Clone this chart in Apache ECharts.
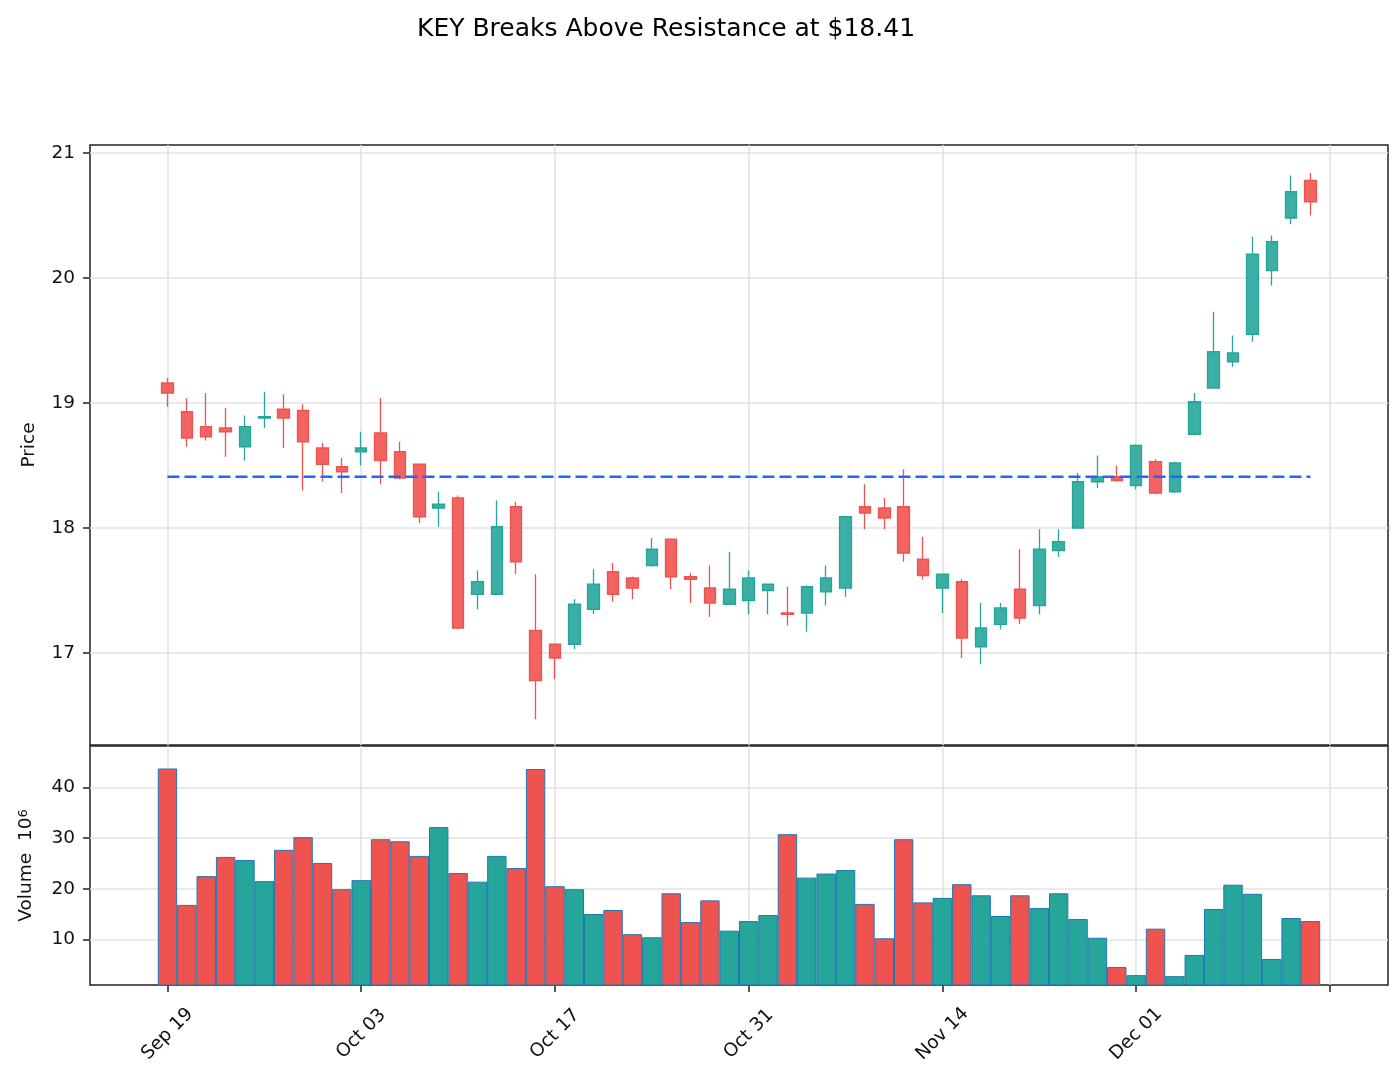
<!DOCTYPE html>
<html>
<head>
<meta charset="utf-8">
<title>KEY Breaks Above Resistance</title>
<script src="https://cdn.jsdelivr.net/npm/echarts@6/dist/echarts.min.js"></script>
<style>
  html, body { margin: 0; padding: 0; background: #fff; }
  #chart { width: 1400px; height: 1082px; }
</style>
</head>
<body>
<div id="chart"></div>
<script>
// 交易日期
const dates = [
  'Sep 19', 'Sep 20', 'Sep 21', 'Sep 22', 'Sep 23', 'Sep 26', 'Sep 27', 'Sep 28', 'Sep 29', 'Sep 30',
  'Oct 03', 'Oct 04', 'Oct 05', 'Oct 06', 'Oct 07', 'Oct 10', 'Oct 11', 'Oct 12', 'Oct 13', 'Oct 14',
  'Oct 17', 'Oct 18', 'Oct 19', 'Oct 20', 'Oct 21', 'Oct 24', 'Oct 25', 'Oct 26', 'Oct 27', 'Oct 28',
  'Oct 31', 'Nov 01', 'Nov 02', 'Nov 03', 'Nov 04', 'Nov 07', 'Nov 08', 'Nov 09', 'Nov 10', 'Nov 11',
  'Nov 14', 'Nov 15', 'Nov 16', 'Nov 17', 'Nov 18', 'Nov 21', 'Nov 22', 'Nov 23', 'Nov 28', 'Nov 29',
  'Dec 01', 'Dec 02', 'Dec 05', 'Dec 06', 'Dec 07', 'Dec 08', 'Dec 09', 'Dec 12', 'Dec 13', 'Dec 14'
]
// 开盘 / 最高 / 最低 / 收盘
const opens = [
  19.16, 18.93, 18.81, 18.80, 18.65, 18.88, 18.95, 18.94, 18.64, 18.49,
  18.61, 18.76, 18.61, 18.51, 18.16, 18.24, 17.47, 17.47, 18.17, 17.18,
  17.07, 17.07, 17.35, 17.65, 17.60, 17.70, 17.91, 17.61, 17.52, 17.39,
  17.42, 17.50, 17.32, 17.32, 17.49, 17.52, 18.17, 18.16, 18.17, 17.75,
  17.52, 17.57, 17.05, 17.23, 17.51, 17.38, 17.82, 18.00, 18.37, 18.41,
  18.34, 18.53, 18.29, 18.75, 19.12, 19.33, 19.55, 20.06, 20.48, 20.78
]
const highs = [
  19.20, 19.04, 19.08, 18.96, 18.90, 19.09, 19.07, 18.99, 18.68, 18.56,
  18.77, 19.04, 18.69, 18.51, 18.29, 18.26, 17.66, 18.22, 18.21, 17.63,
  17.07, 17.43, 17.67, 17.72, 17.61, 17.92, 17.91, 17.64, 17.70, 17.81,
  17.66, 17.55, 17.53, 17.54, 17.70, 18.09, 18.35, 18.24, 18.47, 17.93,
  17.63, 17.59, 17.40, 17.40, 17.83, 17.99, 17.99, 18.44, 18.58, 18.50,
  18.67, 18.55, 18.53, 19.08, 19.73, 19.54, 20.33, 20.34, 20.82, 20.84
]
const lows = [
  18.97, 18.65, 18.70, 18.57, 18.54, 18.80, 18.64, 18.30, 18.37, 18.28,
  18.50, 18.35, 18.39, 18.04, 18.01, 17.19, 17.35, 17.47, 17.63, 16.47,
  16.79, 17.03, 17.31, 17.41, 17.43, 17.69, 17.51, 17.40, 17.29, 17.39,
  17.31, 17.31, 17.22, 17.17, 17.38, 17.45, 17.99, 17.99, 17.73, 17.59,
  17.32, 16.96, 16.91, 17.19, 17.23, 17.31, 17.77, 18.00, 18.32, 18.37,
  18.31, 18.27, 18.28, 18.74, 19.12, 19.29, 19.49, 19.94, 20.43, 20.50
]
const closes = [
  19.08, 18.72, 18.73, 18.77, 18.81, 18.89, 18.88, 18.69, 18.51, 18.45,
  18.64, 18.54, 18.40, 18.09, 18.19, 17.20, 17.57, 18.01, 17.73, 16.78,
  16.96, 17.39, 17.55, 17.47, 17.52, 17.83, 17.61, 17.59, 17.40, 17.51,
  17.60, 17.55, 17.31, 17.53, 17.60, 18.09, 18.12, 18.08, 17.80, 17.62,
  17.63, 17.12, 17.20, 17.36, 17.28, 17.83, 17.89, 18.37, 18.41, 18.38,
  18.66, 18.28, 18.52, 19.01, 19.41, 19.40, 20.19, 20.29, 20.69, 20.61
]
// 成交量 (百万)
const volumes = [
  43.8, 16.8, 22.5, 26.3, 25.7, 21.5, 27.7, 30.2, 25.1, 19.9,
  21.7, 29.8, 29.4, 26.5, 32.2, 23.1, 21.4, 26.5, 24.1, 43.7,
  20.5, 19.9, 15.0, 15.8, 11.0, 10.4, 19.1, 13.4, 17.7, 11.7,
  13.6, 14.8, 30.8, 22.2, 23.0, 23.7, 17.0, 10.2, 29.8, 17.3,
  18.2, 20.9, 18.7, 14.6, 18.7, 16.2, 19.1, 14.0, 10.3, 4.5,
  2.9, 12.1, 2.7, 6.9, 16.0, 20.8, 19.0, 6.1, 14.2, 13.6
]
// 阻力位
const resistance = 18.41
// 刻度
const xTicks = [0, 10, 20, 30, 40, 50, 60]
const xLabelTicks = [0, 10, 20, 30, 40, 50]
const priceTicks = [17, 18, 19, 20, 21]
const volumeTicks = [10, 20, 30, 40]

const upColor = '#26a69a'
const downColor = '#ef5350'
const font = 'DejaVu Sans'
const gridLine = { show: true, lineStyle: { color: '#e3e3e3', width: 1.6 } }
const tickStyle = { color: '#222', width: 1.5 }
const noLine = { show: false, onZero: false }

// 初始化 echarts 实例
const myChart = echarts.init(document.getElementById('chart'))

// K线数据 [x, open, close, low, high]
const candleData = dates.map((d, i) => [i, opens[i], closes[i], lows[i], highs[i]])
// 成交量 颜色跟随涨跌
const volumeData = dates.map((d, i) => ({
  value: [i, volumes[i]],
  itemStyle: { color: closes[i] >= opens[i] ? upColor : downColor }
}))

const option = {
  animation: false,
  backgroundColor: '#fff',
  title: {
    text: 'KEY Breaks Above Resistance at $18.41',
    left: 412,
    top: 12,
    textStyle: { fontFamily: font, fontSize: 25, fontWeight: 'normal', color: '#000' }
  },
  grid: [
    { left: 90, width: 1298, top: 145, height: 600, show: true, borderColor: '#222', borderWidth: 1.5, outerBoundsMode: 'none' },
    { left: 90, width: 1298, top: 746, height: 239, show: true, borderColor: '#222', borderWidth: 1.5, outerBoundsMode: 'none' }
  ],
  xAxis: [
    {
      type: 'value', gridIndex: 0, min: -4, max: 63,
      axisLine: noLine,
      axisTick: { show: false, customValues: xTicks },
      axisLabel: { show: false },
      splitLine: gridLine
    },
    {
      type: 'value', gridIndex: 1, min: -4, max: 63,
      axisLine: noLine,
      axisTick: { show: true, length: 7, customValues: xTicks, lineStyle: tickStyle },
      axisLabel: {
        customValues: xLabelTicks,
        formatter: v => dates[v] || '',
        rotate: 45, align: 'center', verticalAlign: 'middle', margin: 49,
        fontFamily: font, fontSize: 18.5, color: '#111'
      },
      splitLine: gridLine
    }
  ],
  yAxis: [
    {
      type: 'value', gridIndex: 0, min: 16.264, max: 21.064,
      axisLine: noLine,
      axisTick: { show: true, length: 7, customValues: priceTicks, lineStyle: tickStyle },
      axisLabel: { customValues: priceTicks, margin: 15, fontFamily: font, fontSize: 18.5, color: '#111' },
      splitLine: gridLine,
      name: 'Price', nameLocation: 'middle', nameGap: 51,
      nameTextStyle: { fontFamily: font, fontSize: 18.5, color: '#111' }
    },
    {
      type: 'value', gridIndex: 1, min: 0.95, max: 48.25,
      axisLine: noLine,
      axisTick: { show: true, length: 7, customValues: volumeTicks, lineStyle: tickStyle },
      axisLabel: { customValues: volumeTicks, margin: 15, fontFamily: font, fontSize: 18.5, color: '#111' },
      splitLine: gridLine,
      name: '{a|Volume  10}{b|6}', nameLocation: 'middle', nameGap: 54,
      nameTextStyle: {
        rich: {
          a: { fontFamily: font, fontSize: 18.5, color: '#111' },
          b: { fontFamily: font, fontSize: 13, color: '#111', verticalAlign: 'top' }
        }
      }
    }
  ],
  series: [
    {
      name: 'KEY', type: 'candlestick', xAxisIndex: 0, yAxisIndex: 0,
      data: candleData,
      encode: { x: 0, y: [1, 2, 3, 4] },
      barWidth: 12,
      itemStyle: {
        color: 'rgba(38,166,154,0.9)', color0: 'rgba(239,83,80,0.9)',
        borderColor: upColor, borderColor0: downColor, borderWidth: 1.3
      }
    },
    {
      name: 'Resistance', type: 'line', xAxisIndex: 0, yAxisIndex: 0,
      data: [[0, resistance], [dates.length - 1, resistance]],
      symbol: 'none', silent: true, z: 5,
      lineStyle: { color: '#2962ff', width: 2.5, type: [12, 5] }
    },
    {
      name: 'Volume', type: 'bar', xAxisIndex: 1, yAxisIndex: 1,
      data: volumeData,
      barWidth: 19.4,
      itemStyle: { borderColor: '#1f77b4', borderWidth: 1 }
    }
  ]
}

myChart.setOption(option)
</script>
</body>
</html>
